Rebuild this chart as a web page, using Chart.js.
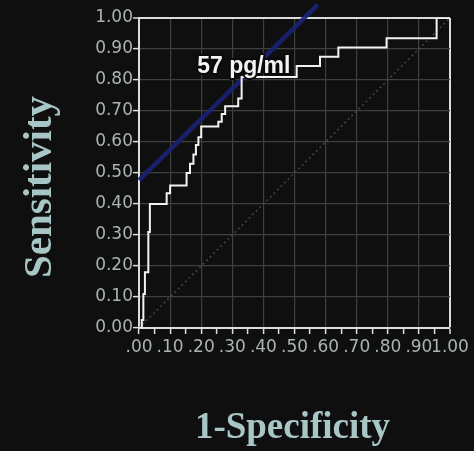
<!DOCTYPE html>
<html>
<head>
<meta charset="utf-8">
<script src="https://cdn.jsdelivr.net/npm/chart.js@4/dist/chart.umd.min.js"></script>
<style>
  html, body { margin: 0; padding: 0; background: #0f0f0f; }
  #wrap { width: 474px; height: 451px; }
</style>
</head>
<body>
<div id="wrap"><canvas id="roc" width="474" height="451"></canvas></div>
<script>
// ROC curve: each step is (false-positive rate, true-positive rate) after a rise
const stepFpr = [0, 0.009, 0.014, 0.019, 0.030, 0.035, 0.089, 0.100, 0.153, 0.164, 0.175, 0.183, 0.191, 0.200,
                 0.255, 0.266, 0.277, 0.319, 0.330, 0.507, 0.582, 0.641, 0.796, 0.957, 1.000];
const stepTpr = [0, 0.026, 0.110, 0.180, 0.310, 0.400, 0.435, 0.460, 0.500, 0.530, 0.560, 0.590, 0.615, 0.650,
                 0.665, 0.690, 0.715, 0.740, 0.810, 0.845, 0.875, 0.905, 0.935, 1.000, 1.000];

// Tangent line through the optimal cut-off, and the chance diagonal
const tangentX = [0, 0.575];
const tangentY = [0.477, 1.043];
const chanceX = [0, 1];
const chanceY = [0, 1];

const cutoffLabel = '57 pg/ml';
const cutoffLabelPos = [0.187, 0.822];

const yTickLabels = ['0.00', '0.10', '0.20', '0.30', '0.40', '0.50', '0.60', '0.70', '0.80', '0.90', '1.00'];
const xTickLabels = ['.00', '.10', '.20', '.30', '.40', '.50', '.60', '.70', '.80', '.90', '1.00'];
const xTitle = '1-Specificity';
const yTitle = 'Sensitivity';

// Expand steps into corner points: move right at the old height, then rise
const rocPoints = [];
stepFpr.forEach((x, i) => {
  if (i > 0) rocPoints.push({ x: x, y: stepTpr[i - 1] });
  rocPoints.push({ x: x, y: stepTpr[i] });
});
const toPoints = (xs, ys) => xs.map((x, i) => ({ x: x, y: ys[i] }));

const near = (a, b) => Math.abs(a - b) < 1e-6;
const GRID = '#3f3f3f';
const FRAME = '#dcdcdc';
const TICKTXT = '#aab4b4';
const TITLE = '#a9c6c6';

const backdrop = {
  id: 'backdrop',
  beforeDraw(chart) {
    const c = chart.ctx;
    c.save();
    c.fillStyle = '#0f0f0f';
    c.fillRect(0, 0, chart.width, chart.height);
    c.restore();
  }
};

const annotations = {
  id: 'annotations',
  afterDatasetsDraw(chart) {
    const c = chart.ctx;
    const xs = chart.scales.x, ys = chart.scales.y;
    c.save();
    c.font = 'bold 23px "Liberation Sans", Arial, sans-serif';
    c.textAlign = 'left';
    c.textBaseline = 'alphabetic';
    const px = xs.getPixelForValue(cutoffLabelPos[0]);
    const py = ys.getPixelForValue(cutoffLabelPos[1]);
    c.lineJoin = 'round';
    c.lineWidth = 4;
    c.strokeStyle = '#0a0a0a';
    c.strokeText(cutoffLabel, px, py);
    c.fillStyle = '#f4f4f4';
    c.fillText(cutoffLabel, px, py);
    c.restore();
  },
  afterDraw(chart) {
    const c = chart.ctx;
    const a = chart.chartArea;
    c.save();
    c.fillStyle = TITLE;
    c.textAlign = 'center';
    c.textBaseline = 'alphabetic';
    c.font = 'bold 37px "Liberation Serif", "Times New Roman", serif';
    c.fillText(xTitle, (a.left + a.right) / 2 - 2, a.bottom + 110);
    c.translate(a.left - 88, (a.top + a.bottom) / 2 + 14);
    c.rotate(-Math.PI / 2);
    c.font = 'bold 41px "Liberation Serif", "Times New Roman", serif';
    c.fillText(yTitle, 0, 0);
    c.restore();
  }
};

new Chart(document.getElementById('roc'), {
  type: 'line',
  data: {
    datasets: [
      {
        data: rocPoints,
        borderColor: '#f2f2f2',
        borderWidth: 2,
        pointRadius: 0,
        tension: 0
      },
      {
        data: toPoints(tangentX, tangentY),
        borderColor: 'rgba(26, 34, 118, 0.9)',
        borderWidth: 4.5,
        pointRadius: 0,
        clip: false
      },
      {
        data: toPoints(chanceX, chanceY),
        borderColor: '#4e4242',
        borderWidth: 1.5,
        borderDash: [2, 3],
        pointRadius: 0
      }
    ]
  },
  options: {
    responsive: false,
    animation: false,
    events: [],
    layout: { padding: { top: 18, right: 24, left: 0, bottom: 0 } },
    plugins: { legend: { display: false }, tooltip: { enabled: false } },
    scales: {
      x: {
        type: 'linear',
        min: 0,
        max: 1,
        afterFit(scale) { scale.height = 123; },
        border: { color: FRAME, width: 2 },
        grid: {
          color: ctx => {
            const v = ctx.tick ? ctx.tick.value : 0;
            if (near(v, 1)) return FRAME;
            return near(Math.round(v * 20) % 2, 0) ? GRID : 'rgba(0,0,0,0)';
          },
          lineWidth: ctx => (ctx.tick && near(ctx.tick.value, 1)) ? 2 : 1.2,
          tickColor: FRAME,
          tickLength: 6,
          tickWidth: 1.5
        },
        ticks: {
          stepSize: 0.05,
          autoSkip: false,
          maxRotation: 0,
          padding: 3,
          color: TICKTXT,
          font: { family: '"DejaVu Sans", sans-serif', size: 17 },
          callback: v => {
            const k = Math.round(v * 20);
            return k % 2 === 0 ? xTickLabels[k / 2] : '';
          }
        }
      },
      y: {
        type: 'linear',
        min: 0,
        max: 1,
        afterFit(scale) { scale.width = 139; },
        border: { color: FRAME, width: 2 },
        grid: {
          color: ctx => (ctx.tick && near(ctx.tick.value, 1)) ? FRAME : GRID,
          lineWidth: ctx => (ctx.tick && near(ctx.tick.value, 1)) ? 2 : 1.2,
          tickColor: FRAME,
          tickLength: 6,
          tickWidth: 1.5
        },
        ticks: {
          stepSize: 0.1,
          padding: 0,
          color: TICKTXT,
          font: { family: '"DejaVu Sans", sans-serif', size: 17 },
          callback: (v, i) => yTickLabels[Math.round(v * 10)]
        }
      }
    }
  },
  plugins: [backdrop, annotations]
});
</script>
</body>
</html>
